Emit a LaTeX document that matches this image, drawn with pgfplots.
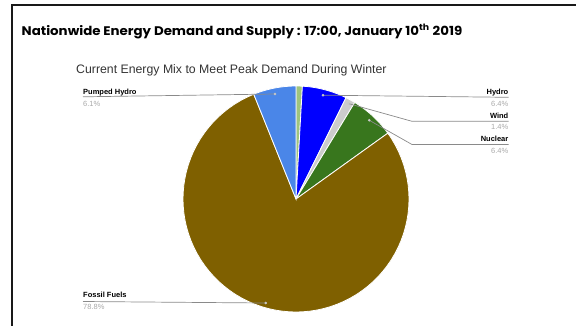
\documentclass[border=0pt]{standalone}
\usepackage{pgfplots}
\usepackage{pgfplotstable}
\pgfplotsset{compat=1.18}
\usepackage{fontspec}
\setmainfont{Liberation Sans}
\newfontfamily\titlefont{Poppins}

\definecolor{cOther}{HTML}{9FC47D}
\definecolor{cHydro}{HTML}{0000FF}
\definecolor{cWind}{HTML}{CCCCCC}
\definecolor{cNuclear}{HTML}{38761D}
\definecolor{cFossil}{HTML}{7F6000}
\definecolor{cPumped}{HTML}{4A86E8}
\definecolor{leader}{HTML}{8A8A8A}
\definecolor{pct}{HTML}{A8A8A8}
\definecolor{dot}{HTML}{C8C8C8}

% Share of generation (percent), clockwise from 12 o'clock
\pgfplotstableread{
label   value colour
Other   0.9   cOther
Hydro   6.4   cHydro
Wind    1.4   cWind
Nuclear 6.4   cNuclear
Fossil  78.8  cFossil
Pumped  6.1   cPumped
}\energymix

\newcommand{\lbl}{\fontsize{7.5}{9}\selectfont\bfseries}
\newcommand{\pc}{\fontsize{7.5}{9}\selectfont\color{pct}}

\begin{document}
\begin{tikzpicture}
\begin{axis}[
  scale only axis, width=576pt, height=325pt,
  xmin=0, xmax=576, ymin=0, ymax=325, y dir=reverse,
  hide axis, clip=false,
]
% pie sectors
\pgfplotstablegetrowsof{\energymix}
\pgfmathtruncatemacro\lastrow{\pgfplotsretval-1}
\def\cum{0}
\pgfplotsforeachungrouped \i in {0,...,\lastrow} {
  \pgfplotstablegetelem{\i}{value}\of\energymix \let\v\pgfplotsretval
  \pgfplotstablegetelem{\i}{colour}\of\energymix \let\c\pgfplotsretval
  \pgfmathsetmacro\a{\cum*3.6}
  \pgfmathsetmacro\b{(\cum+\v)*3.6}
  \edef\cmd{\noexpand\addplot[fill=\c, draw=white, line width=0.8pt,
      domain=\a:\b, samples=80, variable=\noexpand\t]
    ({296+113*sin(\noexpand\t)}, {199-113*cos(\noexpand\t)})
    -- (axis cs:296,199) -- cycle;}
  \cmd
  \pgfmathsetmacro\cum{\cum+\v}
}

% leader lines
\draw[leader, line width=0.7pt] (axis cs:83,96.8) -- (axis cs:275,94);
\draw[leader, line width=0.7pt] (axis cs:323,95.2) -- (axis cs:508.5,97.3);
\draw[leader, line width=0.7pt] (axis cs:348.3,103.5) -- (axis cs:412,121.3) -- (axis cs:508.5,121.3);
\draw[leader, line width=0.7pt] (axis cs:369.3,120.3) -- (axis cs:412,144.5) -- (axis cs:508.5,144.5);
\draw[leader, line width=0.7pt] (axis cs:83,301.5) -- (axis cs:265.7,303);
\addplot[only marks, mark=*, mark size=1.1pt, color=dot]
  coordinates {(275,94) (323,95.2) (348.3,103.5) (369.3,120.3) (265.7,303)};

% labels
\node[anchor=base west, inner sep=0] at (axis cs:83,94) {\lbl Pumped Hydro};
\node[anchor=base west, inner sep=0] at (axis cs:83,106) {\pc 6.1\%};
\node[anchor=base west, inner sep=0] at (axis cs:83,297.5) {\lbl Fossil Fuels};
\node[anchor=base west, inner sep=0] at (axis cs:83,309.5) {\pc 78.8\%};
\node[anchor=base east, inner sep=0] at (axis cs:508.5,94.3) {\lbl Hydro};
\node[anchor=base east, inner sep=0] at (axis cs:508.5,106.5) {\pc 6.4\%};
\node[anchor=base east, inner sep=0] at (axis cs:508.5,118) {\lbl Wind};
\node[anchor=base east, inner sep=0] at (axis cs:508.5,129.8) {\pc 1.4\%};
\node[anchor=base east, inner sep=0] at (axis cs:508.5,141) {\lbl Nuclear};
\node[anchor=base east, inner sep=0] at (axis cs:508.5,153) {\pc 6.4\%};

% titles
\node[anchor=base west, inner sep=0, xscale=1.07] at (axis cs:21.5,35)
  {\titlefont\bfseries\fontsize{12.5}{14}\selectfont Nationwide Energy Demand and Supply : 17:00, January 10\textsuperscript{th} 2019};
\node[anchor=base west, inner sep=0, text=black!80] at (axis cs:76,73.5)
  {\fontsize{12.3}{14}\selectfont Current Energy Mix to Meet Peak Demand During Winter};

% frame
\draw[black!90, line width=2pt] (axis cs:11.5,326) -- (axis cs:11.5,5) -- (axis cs:577,5);

\coordinate (BL) at (axis cs:0,325);
\coordinate (TR) at (axis cs:576,0);
\end{axis}
\pgfresetboundingbox
\path[use as bounding box] (BL) rectangle (TR);
\end{tikzpicture}
\end{document}
